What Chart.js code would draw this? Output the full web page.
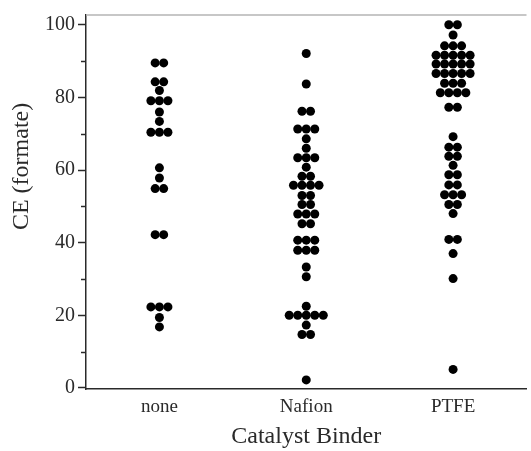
<!DOCTYPE html>
<html>
<head>
<meta charset="utf-8">
<script src="https://cdn.jsdelivr.net/npm/chart.js@4"></script>
<style>
	body { margin: 0; background: #fff; }
	#wrap { width: 531px; height: 451px; position: relative; }
</style>
</head>
<body>
<div id="wrap"><canvas id="chart"></canvas></div>
<script>
const categories = ["none", "Nafion", "PTFE"];

// CE (formate) values, one entry per dot; equal values sit in the same row
const noneCE = [89.5, 89.5, 84.3, 84.3, 81.9, 79.1, 79.1, 79.1, 76, 73.4,
	70.4, 70.4, 70.4, 60.6, 57.8, 54.9, 54.9, 42.2, 42.2,
	22.3, 22.3, 22.3, 19.4, 16.8];
const nafionCE = [92.1, 83.7, 76.2, 76.2, 71.3, 71.3, 71.3, 68.6, 66.0,
	63.4, 63.4, 63.4, 60.8, 58.3, 58.3, 55.8, 55.8, 55.8, 55.8,
	53.0, 53.0, 50.5, 50.5, 47.9, 47.9, 47.9, 45.2, 45.2,
	40.7, 40.7, 40.7, 37.9, 37.9, 37.9, 33.3, 30.6, 22.5,
	20.0, 20.0, 20.0, 20.0, 20.0, 17.3, 14.7, 14.7, 2.2];
const ptfeCE = [100, 100, 97.2, 94.2, 94.2, 94.2, 91.6, 91.6, 91.6, 91.6, 91.6,
	89.2, 89.2, 89.2, 89.2, 89.2, 86.6, 86.6, 86.6, 86.6, 86.6,
	83.9, 83.9, 83.9, 81.3, 81.3, 81.3, 81.3, 77.3, 77.3,
	69.2, 66.3, 66.3, 63.8, 63.8, 61.3, 58.7, 58.7, 55.9, 55.9,
	53.2, 53.2, 53.2, 50.5, 50.5, 48.0, 40.9, 40.9, 37.0, 30.1, 5.1];

const yTicks = [0, 20, 40, 60, 80, 100];
const yMinor = [10, 30, 50, 70, 90];
const yTitle = "CE (formate)";

const font = "'Liberation Serif', 'Times New Roman', serif";
const ink = "#2a2a2a";
const step = 0.058; // horizontal dot spacing, in x units

// lay the dots of a row side by side, centred on the category
function swarm(values, center) {
	let counts = {};
	values.forEach(v => counts[v] = (counts[v] || 0) + 1);
	let seen = {};
	return values.map(v => {
		let i = seen[v] || 0;
		seen[v] = i + 1;
		return { x: center + (i - (counts[v] - 1) / 2) * step, y: v };
	});
}

let frame = {
	id: "frame",
	afterDraw(chart) {
		let ctx = chart.ctx;
		let area = chart.chartArea;
		let y = chart.scales.y;
		ctx.save();
		ctx.strokeStyle = "#b5b5b5";
		ctx.lineWidth = 1.5;
		ctx.beginPath();
		ctx.moveTo(area.left, area.top);
		ctx.lineTo(area.right, area.top);
		ctx.stroke();
		ctx.strokeStyle = ink;
		ctx.lineWidth = 1.5;
		yMinor.forEach(v => {
			let py = Math.round(y.getPixelForValue(v)) + 0.5;
			ctx.beginPath();
			ctx.moveTo(area.left - 5, py);
			ctx.lineTo(area.left, py);
			ctx.stroke();
		});
		// y title sits a bit above the middle of the axis, as in the original
		ctx.translate(22, y.getPixelForValue(61));
		ctx.rotate(-Math.PI / 2);
		ctx.fillStyle = ink;
		ctx.font = "24px " + font;
		ctx.textAlign = "center";
		ctx.textBaseline = "middle";
		ctx.fillText(yTitle, 0, 0);
		ctx.restore();
	}
};

let groups = [noneCE, nafionCE, ptfeCE];

new Chart(document.getElementById("chart"), {
	type: "scatter",
	data: {
		datasets: groups.map((g, i) => ({
			data: swarm(g, i + 1),
			backgroundColor: "#000",
			borderWidth: 0,
			pointRadius: 4.5,
			pointHoverRadius: 4.5
		}))
	},
	options: {
		responsive: true,
		maintainAspectRatio: false,
		animation: false,
		clip: false,
		layout: { padding: { top: 14, right: 0, left: 0, bottom: 0 } },
		plugins: {
			legend: { display: false },
			tooltip: { enabled: false }
		},
		scales: {
			x: {
				type: "linear",
				min: 0.5,
				max: 3.5,
				afterBuildTicks: s => { s.ticks = [1, 2, 3].map(v => ({ value: v })); },
				afterFit: s => { s.height = 62; },
				ticks: {
					callback: v => categories[v - 1],
					font: { family: font, size: 19 },
					color: ink,
					padding: 7
				},
				grid: { drawOnChartArea: false, drawTicks: false, color: "rgba(0,0,0,0)" },
				border: { display: true, color: ink, width: 1.5 },
				title: {
					display: true,
					text: "Catalyst Binder",
					font: { family: font, size: 24 },
					color: ink,
					padding: { top: 4, bottom: 0 }
				}
			},
			y: {
				min: -0.3,
				max: 102.7,
				afterBuildTicks: s => { s.ticks = yTicks.map(v => ({ value: v })); },
				afterFit: s => { s.width = 86; },
				ticks: {
					font: { family: font, size: 20 },
					color: ink,
					padding: 3
				},
				grid: { drawOnChartArea: false, drawTicks: true, tickLength: 8, tickColor: ink, tickWidth: 1.5 },
				border: { display: true, color: ink, width: 1.5 }
			}
		}
	},
	plugins: [frame]
});
</script>
</body>
</html>
